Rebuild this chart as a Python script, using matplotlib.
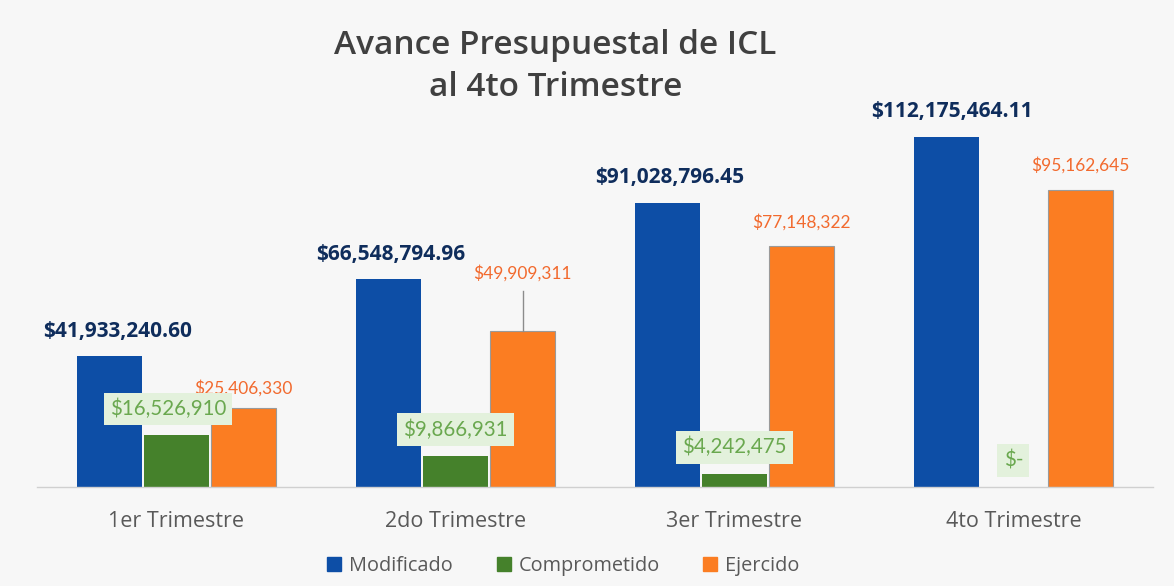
import matplotlib.pyplot as plt
from matplotlib.patches import Patch
import numpy as np

plt.rcParams['font.family'] = ['Lato', 'DejaVu Sans']

trimestres = ['1er Trimestre', '2do Trimestre', '3er Trimestre', '4to Trimestre']
modificado = [41933240.60, 66548794.96, 91028796.45, 112175464.11]
comprometido = [16526910, 9866931, 4242475, 0]
ejercido = [25406330, 49909311, 77148322, 95162645]

etiquetas_mod = ['$41,933,240.60', '$66,548,794.96', '$91,028,796.45', '$112,175,464.11']
etiquetas_comp = ['$16,526,910', '$9,866,931', '$4,242,475', '$-']
etiquetas_ejer = ['$25,406,330', '$49,909,311', '$77,148,322', '$95,162,645']

azul = '#0d4ea6'
verde = '#45812b'
naranja = '#fb7d22'
gris = '#595959'

fig = plt.figure(figsize=(11.74, 5.86), dpi=100)
fig.patch.set_facecolor('#f7f7f7')
ax = fig.add_axes([0.0315, 0.169, 0.9505, 0.639])
ax.set_facecolor('#f7f7f7')

x = np.arange(len(trimestres))
ancho = 0.233
paso = 0.241

ax.bar(x - paso, modificado, ancho, color=azul)
ax.bar(x, comprometido, ancho, color=verde)
ax.bar(x + paso, ejercido, ancho, color=naranja, edgecolor='#9a9a9a', linewidth=0.8)

ax.set_xlim(-0.5, 3.5)
ax.set_ylim(0, 120e6)

# etiquetas de datos
desp_mod = [0.03, 0.01, 0.01, 0.02]
for i in range(4):
    ax.text(x[i] - paso + desp_mod[i], modificado[i] + 8e6, etiquetas_mod[i],
            ha='center', va='center', fontsize=15, fontweight='bold', color='#0f2d5c',
            family='Open Sans')

sube_ejer = [6.3e6, 18.5e6, 7.8e6, 8e6]
for i in range(4):
    ax.text(x[i] + paso, ejercido[i] + sube_ejer[i], etiquetas_ejer[i],
            ha='center', va='center', fontsize=12.5, color='#f26a2e')
# linea guia del 2do trimestre
ax.plot([x[1] + paso, x[1] + paso], [ejercido[1], ejercido[1] + 13e6],
        color='#8c8c8c', linewidth=1)

desp_comp = [-0.03, 0, 0, 0]
for i in range(4):
    ax.text(x[i] + desp_comp[i], comprometido[i] + 8.5e6, etiquetas_comp[i],
            ha='center', va='center', fontsize=14.8, color='#6aa84f',
            bbox=dict(boxstyle='square,pad=0.3', facecolor='#e3f1dc', edgecolor='none'))

ax.set_xticks(x)
ax.set_xticklabels(trimestres, fontsize=15.5, color=gris, family='Open Sans')
ax.tick_params(axis='x', length=0, pad=17)
ax.set_yticks([])
for lado in ['top', 'right', 'left']:
    ax.spines[lado].set_visible(False)
ax.spines['bottom'].set_color('#d0d0d0')
ax.spines['bottom'].set_linewidth(1)

fig.text(0.473, 0.886, 'Avance Presupuestal de ICL\nal 4to Trimestre', ha='center', va='center',
         fontsize=24, fontweight='semibold', color='#404040', linespacing=1.35,
         family='Open Sans')

handles = [Patch(color=azul, label='Modificado'),
           Patch(color=verde, label='Comprometido'),
           Patch(color=naranja, label='Ejercido')]
fig.legend(handles=handles, loc='center', bbox_to_anchor=(0.48, 0.034), ncol=3, frameon=False,
           prop={'family': 'Open Sans', 'size': 14.3}, handlelength=0.7, handleheight=0.7,
           handletextpad=0.4, columnspacing=2.2, labelcolor=gris)

fig.savefig('out.png', dpi=100, facecolor=fig.get_facecolor())
